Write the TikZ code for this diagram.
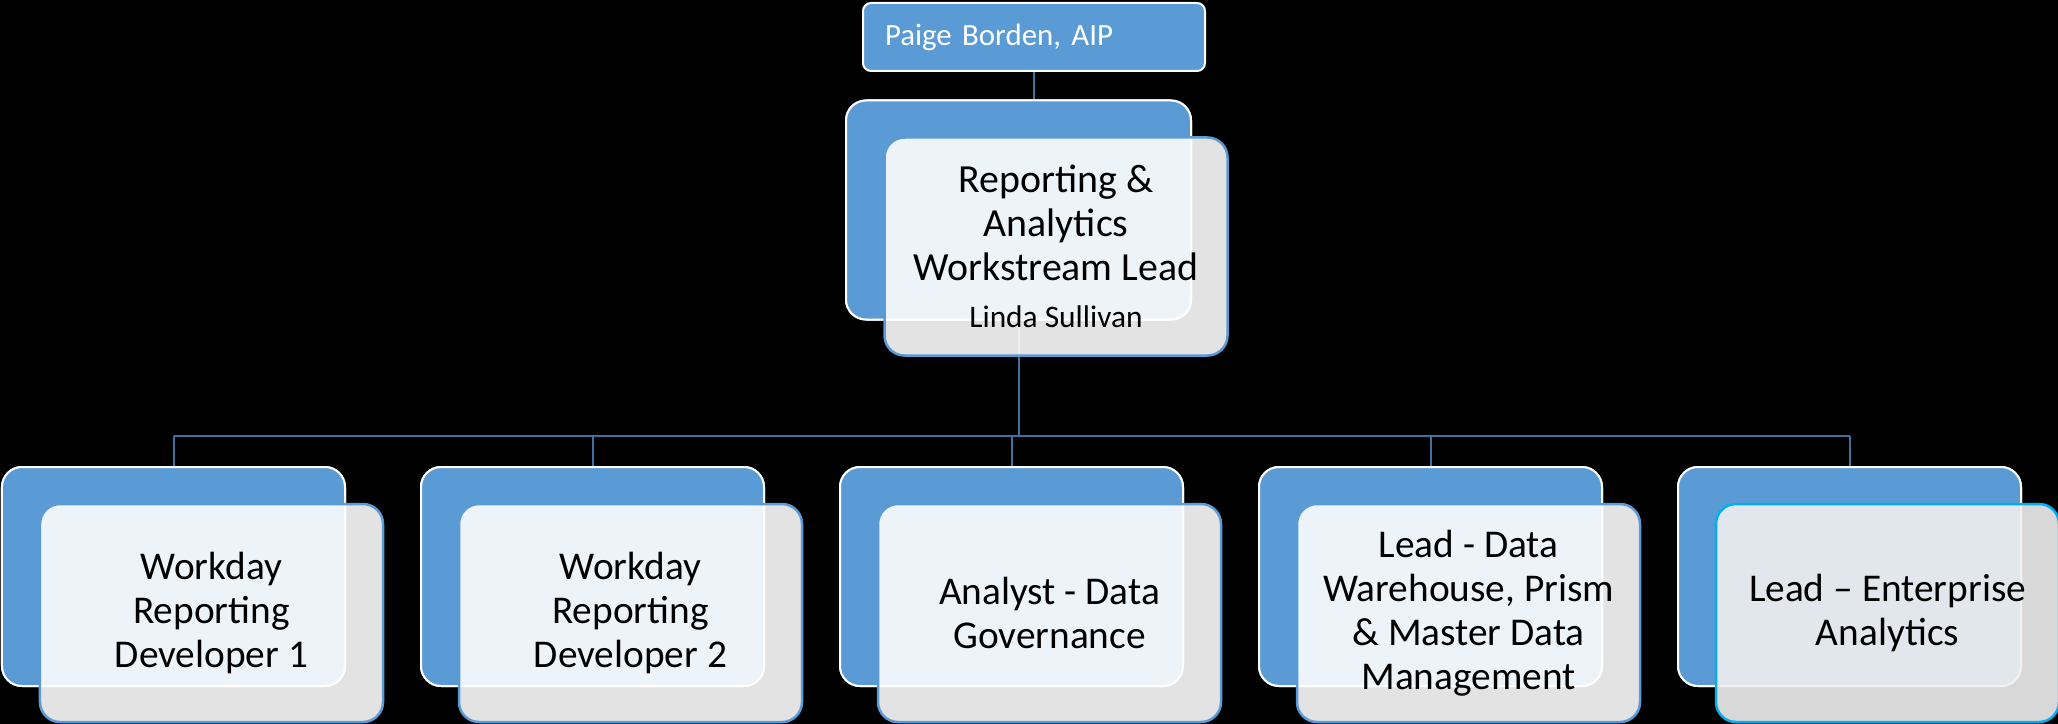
\documentclass[tikz,border=0pt]{standalone}
\usepackage{fontspec}
\setmainfont{Carlito}
\definecolor{boxblue}{RGB}{91,155,213}
\definecolor{linkblue}{RGB}{65,113,156}
\definecolor{cyanline}{RGB}{0,176,240}
\definecolor{lastfill}{RGB}{240,240,240}
\tikzset{
  backbox/.style={rectangle, rounded corners=20bp, draw=white, line width=2bp, fill=boxblue,
    minimum width=343bp, minimum height=219bp, inner sep=0pt},
  frontbox/.style={rectangle, rounded corners=20bp, draw=boxblue, line width=2.5bp, fill=white,
    fill opacity=0.89, text opacity=1, minimum width=343bp, minimum height=218bp, inner sep=0pt,
    align=center, text=black, font=\fontsize{39.5}{44}\selectfont},
  lastbox/.style={frontbox, draw=cyanline, fill=lastfill, fill opacity=0.9},
  topbox/.style={rectangle, rounded corners=8bp, draw=white, line width=2bp, fill=boxblue,
    text=white, text width=298bp, inner xsep=22bp, inner ysep=0pt, minimum height=68bp,
    align=left, font=\fontsize{31}{36}\selectfont},
  link/.style={draw=linkblue, line width=2bp},
}
\begin{document}
\begin{tikzpicture}[x=1bp,y=-1bp]
\fill[black] (0,0) rectangle (2058,724);
\useasboundingbox (0,0) rectangle (2058,724);

% nodes (back boxes & top box)
\node[topbox] (top) at (1034,37) {Paige Borden, AIP};
\node[backbox, minimum width=345bp] (midback) at (1018.5,210) {};
\foreach \i/\L in {1/2,2/421,3/840,4/1259,5/1678}{
  \node[backbox] (b\i) at (\L+171.5,576.5) {};
}
\coordinate (hub) at (1018.5,436);
\coordinate (hl) at (b1.north |- hub);
\coordinate (hr) at (b5.north |- hub);

% connectors
\draw[link] (top.south) -- (top.south |- midback.north);
\draw[link] (midback.south) -- (hub);
\draw[link] (hl) -- (hr);
\foreach \i in {1,...,5}{
  \draw[link] (b\i.north |- hub) -- (b\i.north);
}

% redraw back boxes on top of connectors
\node[backbox, minimum width=345bp] at (midback) {};
\foreach \i in {1,...,5}{ \node[backbox] at (b\i) {}; }

% front boxes
\node[frontbox] (midfront) at (1056,246.5) {\fontsize{40}{44}\selectfont Reporting \&\\\fontsize{40}{44}\selectfont Analytics\\\fontsize{40}{44}\selectfont Workstream Lead\\[4bp]\fontsize{31.5}{36}\selectfont Linda Sullivan};
\node[frontbox] (f1) at (211.5,613) {Workday\\Reporting\\Developer 1};
\node[frontbox] (f2) at (630.5,613) {Workday\\Reporting\\Developer 2};
\node[frontbox] (f3) at (1049.5,613) {Analyst - Data\\Governance};
\node[frontbox] (f4) at (1468.5,613) {Lead - Data\\Warehouse, Prism\\\& Master Data\\Management};
\node[lastbox] (f5) at (1887.5,613) {Lead -- Enterprise\\Analytics};
\end{tikzpicture}
\end{document}
